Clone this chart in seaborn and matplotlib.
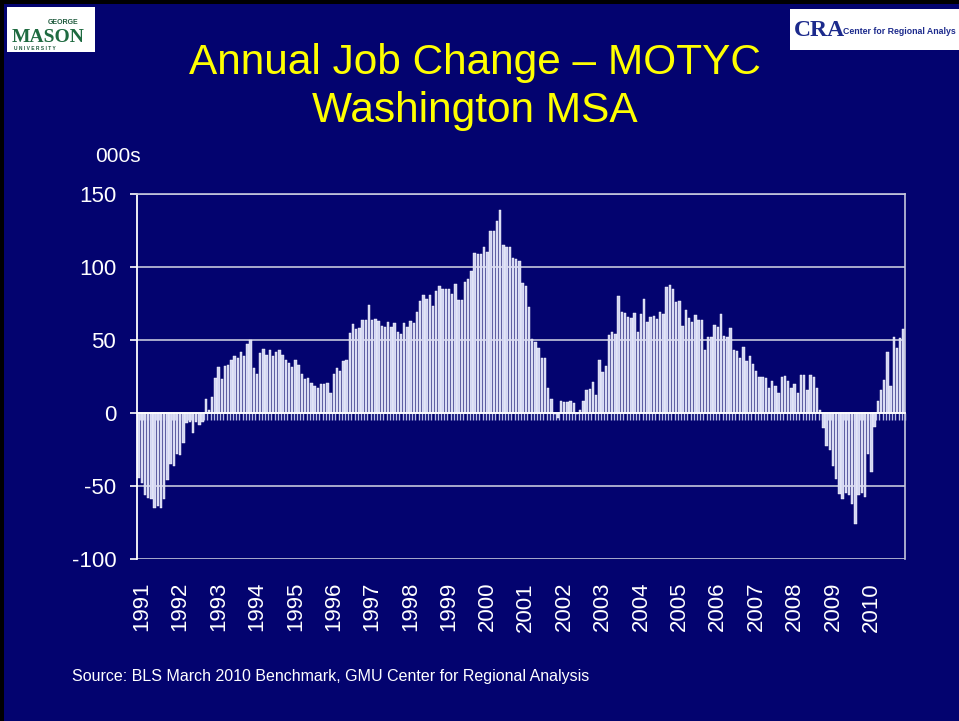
import numpy as np
import pandas as pd
import matplotlib
matplotlib.use("Agg")
import matplotlib.pyplot as plt
import matplotlib.transforms as mtransforms
from matplotlib.patches import Rectangle
import seaborn as sns

# ── Data (000s, annual change by month, Jan 1991 – Dec 2010) ─────────────────
YEARS = list(range(1991, 2011))

CHANGE = [
    # 1991
    -44.5, -48, -56, -58, -59, -65, -63.5, -65, -59, -46, -35, -36,
    # 1992
    -28, -29, -20.5, -7, -6, -14, -6, -8.5, -6, 9.5, 2, 11,
    # 1993
    24, 31.5, 23.5, 32.5, 33, 36.5, 39, 37.5, 42, 39, 47.5, 50,
    # 1994
    31, 27, 41, 43.5, 39.5, 43, 39, 42, 43, 39.5, 36, 34,
    # 1995
    31.7, 36.5, 33, 27, 23.5, 24, 20.5, 18.7, 17, 20, 20, 20.3,
    # 1996
    13.5, 27, 31, 29, 35.6, 36.3, 54.6, 60.7, 57.5, 58.2, 64, 63.7,
    # 1997
    74.2, 64, 64.6, 62.8, 59.8, 59, 62, 58.7, 61.4, 55.7, 54, 61.4,
    # 1998
    59, 62.8, 61.6, 69, 76.5, 80.8, 78.3, 81, 73.5, 83.3, 86.8, 84.7,
    # 1999
    84.7, 84.7, 81.3, 88.6, 77.2, 77.6, 90, 91.6, 97, 109.4, 109, 109,
    # 2000
    113.7, 110, 124.4, 124.7, 131.3, 138.8, 115, 113.7, 113.7, 106, 105.5, 104,
    # 2001
    89.3, 87, 72.8, 51, 48.6, 44.3, 38, 38, 17, 9.8, -1, -3.5,
    # 2002
    8, 7.8, 7.5, 8, 7, -0.5, 2, 8.4, 15.8, 16.7, 21, 12.6,
    # 2003
    36.5, 28.3, 32, 53.4, 55.3, 53.9, 80, 69.4, 68.7, 65.8, 64.8, 68.7,
    # 2004
    55.5, 67.6, 77.9, 62.3, 66, 66.7, 64.4, 69, 68, 86, 87.4, 85.2,
    # 2005
    75.8, 76.5, 59.6, 70.3, 65, 62.3, 67, 63.5, 63.5, 43, 51.8, 52.3,
    # 2006
    60.3, 59, 67.8, 52.7, 52.3, 58.4, 43, 42.5, 38, 45, 35.8, 39,
    # 2007
    33.3, 28.5, 25, 24.4, 24.2, 16.9, 21.7, 18.3, 13.5, 24.4, 25.6, 21.9,
    # 2008
    16.9, 19.9, 13.9, 25.8, 26.3, 16, 25.8, 24.9, 16.9, 1.8, -10.5, -22.6,
    # 2009
    -25.3, -36.3, -45.4, -55.5, -58.7, -54.6, -56.4, -62.3, -76.3, -56.4, -55, -57.3,
    # 2010
    -28.3, -40.4, -9.4, 8, 16, 22.4, 41.6, 18.7, 52.3, 44.5, 51.6, 57.3,
]

Y_TICKS = [-100, -50, 0, 50, 100, 150]

TITLE = "Annual Job Change \u2013 MOTYC\nWashington MSA"
SOURCE = "Source: BLS March 2010 Benchmark, GMU Center for Regional Analysis"

# ── Style ────────────────────────────────────────────────────────────────────
BG = "#03036f"
BAR = "#d2d5f2"
GRID = "#c4c6dc"

sns.set_theme(style="white")
plt.rcParams["font.family"] = ["Liberation Sans", "DejaVu Sans"]
plt.rcParams["axes.unicode_minus"] = False

W, H = 959, 721
fig = plt.figure(figsize=(W / 100, H / 100), dpi=100, facecolor=BG)

# plot area in pixels: x 137..905, y 194..559
ax = fig.add_axes([137 / W, 1 - 559 / H, (905 - 137) / W, (559 - 194) / H])
ax.set_facecolor(BG)

df = pd.DataFrame({"month": np.arange(len(CHANGE)), "change": CHANGE})
sns.barplot(data=df, x="month", y="change", color=BAR, saturation=1,
            width=0.72, edgecolor="white", linewidth=0.3, ax=ax)

ax.set_xlim(-0.5, len(CHANGE) - 0.5)
ax.set_ylim(Y_TICKS[0], Y_TICKS[-1])
ax.set_yticks(Y_TICKS)
ax.set_axisbelow(True)
ax.yaxis.grid(True, color=GRID, linewidth=1.2)
ax.set_xlabel("")
ax.set_ylabel("")

# category axis crosses at zero, monthly tick marks, labels placed below
ax.spines["bottom"].set_position(("data", 0))
ax.spines["bottom"].set_color("white")
ax.spines["bottom"].set_linewidth(1.3)
ax.spines["left"].set_color("white")
ax.spines["left"].set_linewidth(1.3)
for side in ["top", "right"]:
    ax.spines[side].set_color(GRID)
    ax.spines[side].set_linewidth(1.2)

ax.set_xticks(np.arange(len(CHANGE)) + 0.5)
ax.tick_params(axis="x", length=5, width=1, color="#b8bce6",
               direction="out", labelbottom=False, bottom=True)
ax.tick_params(axis="y", length=5, width=1.2, color="white", direction="out",
               labelsize=16, labelcolor="white", pad=10, left=True)

trans = mtransforms.blended_transform_factory(ax.transData, ax.transAxes)
for k, yr in enumerate(YEARS):
    ax.text(k * 12 + 1, -0.063, str(yr), transform=trans, rotation=90,
            ha="center", va="top", fontsize=16, color="white")

# ── Titles & notes ───────────────────────────────────────────────────────────
fig.text(475 / W, 1 - 87 / H, TITLE, ha="center", va="center",
         fontsize=30.5, color="#ffff00", linespacing=1.27)
fig.text(95 / W, 1 - 157 / H, "000s", ha="left", va="center",
         fontsize=15, color="white")
fig.text(72 / W, 1 - 677 / H, SOURCE, ha="left", va="center",
         fontsize=11.5, color="white")

# ── Slide frame and logos ────────────────────────────────────────────────────
fig.add_artist(Rectangle((0, 1 - 4 / H), 1, 4 / H, transform=fig.transFigure,
                         facecolor="black", edgecolor="none"))
fig.add_artist(Rectangle((0, 0), 4 / W, 1, transform=fig.transFigure,
                         facecolor="black", edgecolor="none"))

fig.add_artist(Rectangle((7 / W, 1 - 52 / H), 88 / W, 45 / H,
                         transform=fig.transFigure, facecolor="white",
                         edgecolor="none"))
fig.text(48 / W, 1 - 22 / H, "GEORGE", fontsize=5, fontweight="bold",
         color="#1e5a3c", ha="left", va="center")
fig.text(12 / W, 1 - 37 / H, "MASON", fontsize=14, fontweight="bold",
         family="Liberation Serif", color="#1e6a40", ha="left", va="center")
fig.text(14 / W, 1 - 48 / H, "U N I V E R S I T Y", fontsize=3.5,
         fontweight="bold", color="#1e5a3c", ha="left", va="center")

fig.add_artist(Rectangle((790 / W, 1 - 50 / H), 169 / W, 41 / H,
                         transform=fig.transFigure, facecolor="white",
                         edgecolor="none"))
fig.text(794 / W, 1 - 30 / H, "CRA", fontsize=17, fontweight="bold",
         family="Liberation Serif", color="#1c2a8c", ha="left", va="center")
fig.text(843 / W, 1 - 31 / H, "Center for Regional Analys", fontsize=6.3,
         fontweight="bold", family="Liberation Sans",
         color="#1c2a8c", ha="left", va="center")

fig.savefig("out.png", dpi=100, facecolor=BG)
